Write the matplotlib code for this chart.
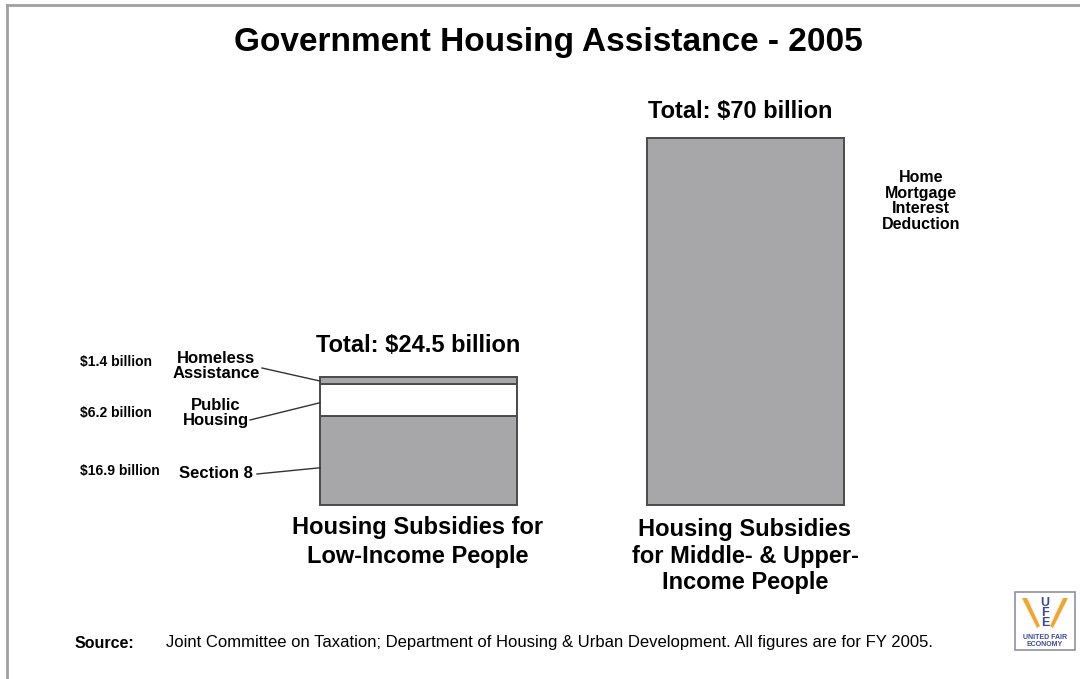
import matplotlib.pyplot as plt
from matplotlib.patches import Rectangle, Polygon

# ---- data (billions of dollars, FY 2005) ----
low_parts = ['Section 8', 'Public\nHousing', 'Homeless\nAssistance']
low_values = [16.9, 6.2, 1.4]
low_value_labels = ['$16.9 billion', '$6.2 billion', '$1.4 billion']
low_colors = ['#a7a7a9', 'white', '#a7a7a9']
high_value = 70
high_part = 'Home\nMortgage\nInterest\nDeduction'
groups = ['Housing Subsidies for\nLow-Income People',
          'Housing Subsidies\nfor Middle- & Upper-\nIncome People']
totals = ['Total: $24.5 billion', 'Total: $70 billion']

W, H = 1080, 679
plt.rcParams['font.family'] = ['Liberation Sans', 'DejaVu Sans']

fig = plt.figure(figsize=(W / 100, H / 100), dpi=100)
ax = fig.add_axes([0, 0, 1, 1])
# one x unit = 327 px between bar centres, one billion = 5.243 px
ax.set_xlim(-418.5 / 327, (W - 418.5) / 327)
ax.set_ylim(-(H - 505) / 5.243, 505 / 5.243)
ax.axis('off')

def px(x, y):
    # pixel position (from top left) -> figure fraction
    return x / W, 1 - y / H

edge = '#4a4a4a'
bw = 0.603
bottom = 0
bottoms = []
for v, c in zip(low_values, low_colors):
    ax.bar(0, v, width=bw, bottom=bottom, color=c, edgecolor=edge, linewidth=1.4)
    bottoms.append(bottom)
    bottom += v
ax.bar(1, high_value, width=bw, color='#a7a7a9', edgecolor=edge, linewidth=1.4)

# frame lines
fig.add_artist(plt.Line2D([7 / W, 7 / W], [0, 1 - 5 / H], transform=fig.transFigure,
                          color='#a0a0a0', lw=2))
fig.add_artist(plt.Line2D([7 / W, 1], [1 - 5 / H, 1 - 5 / H], transform=fig.transFigure,
                          color='#a0a0a0', lw=2))

fig.text(*px(548, 43), 'Government Housing Assistance - 2005', ha='center',
         va='center', fontsize=24, fontweight='bold')
fig.text(*px(418, 346), totals[0], ha='center', va='center', fontsize=17,
         fontweight='bold')
fig.text(*px(740, 111), totals[1], ha='center', va='center', fontsize=17,
         fontweight='bold')
fig.text(*px(418, 542), groups[0], ha='center', va='center', fontsize=17,
         fontweight='bold', linespacing=1.3)
fig.text(*px(745, 556), groups[1], ha='center', va='center', fontsize=17,
         fontweight='bold', linespacing=1.2)
fig.text(*px(921, 201), high_part, ha='center', va='center', fontsize=11.5,
         fontweight='bold', linespacing=1.05)

# left side labels with leader lines
label_y = [471, 413, 362]
name_y = [473, 413, 366]
leader_start = [(257, 474), (250, 420), (262, 368)]
leader_frac = [0.42, 0.42, 0.39]
for name, vl, v, b, ly, ny, (sx, sy), f in zip(low_parts, low_value_labels,
                                                low_values, bottoms, label_y,
                                                name_y, leader_start, leader_frac):
    fig.text(*px(80, ly), vl, ha='left', va='center', fontsize=10,
             fontweight='bold')
    fig.text(*px(216, ny), name, ha='center', va='center', fontsize=12,
             fontweight='bold', linespacing=0.95)
    x0, y0 = ax.transData.inverted().transform(
        fig.transFigure.transform(px(sx, sy)))
    ax.plot([x0, -bw / 2], [y0, b + v * f], color='#333333', lw=1)

fig.text(*px(75, 643), 'Source:', ha='left', va='center', fontsize=11.5,
         fontweight='bold')
fig.text(*px(166, 643), 'Joint Committee on Taxation; Department of Housing & '
         'Urban Development. All figures are for FY 2005.', ha='left',
         va='center', fontsize=12)

# small logo box
fig.add_artist(Rectangle(px(1015, 650), 60 / W, 58 / H, transform=fig.transFigure,
                         facecolor='white', edgecolor='#9090a8', lw=1.2))
for pts in ([(1022, 598), (1027, 598), (1040, 626), (1037, 628)],
            [(1068, 598), (1063, 598), (1050, 626), (1053, 628)]):
    fig.add_artist(Polygon([px(*p) for p in pts], closed=True,
                           transform=fig.transFigure, facecolor='#f2a630',
                           edgecolor='none'))
fig.text(*px(1045, 613), 'U\nF\nE', ha='center', va='center', fontsize=9,
         fontweight='bold', color='#3a4a9a', linespacing=0.8)
fig.text(*px(1045, 641), 'UNITED FAIR\nECONOMY', ha='center', va='center',
         fontsize=5, fontweight='bold', color='#3a4a9a', linespacing=0.9)

fig.savefig('out.png', dpi=100)
